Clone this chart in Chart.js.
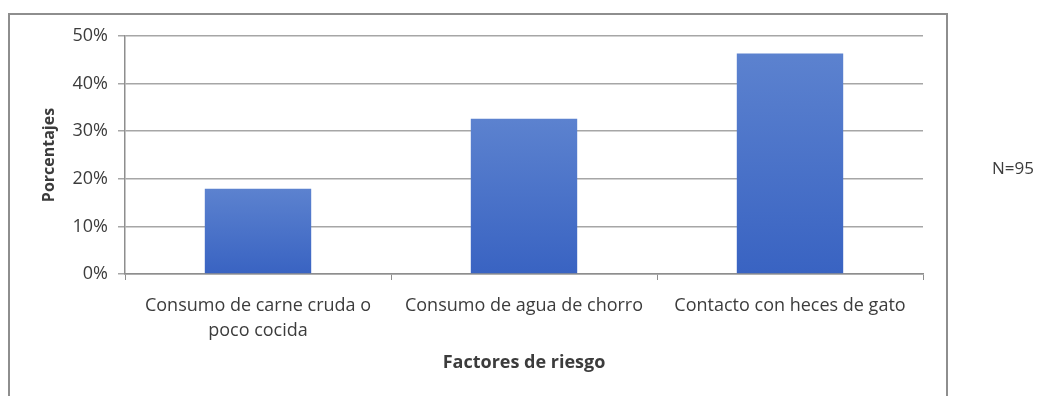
<!DOCTYPE html>
<html>
<head>
<meta charset="utf-8">
<script src="https://cdn.jsdelivr.net/npm/chart.js@4"></script>
<style>
  body { margin: 0; background: #fff; }
  #wrap { position: relative; width: 1043px; height: 396px; overflow: hidden; }
  #frame { position: absolute; left: 8px; top: 13px; width: 936px; height: 400px;
           border: 2px solid #8e8e8e; border-bottom: none; }
  #chart { position: absolute; left: 0; top: 0; }
  #nota { position: absolute; left: 992px; top: 156px; font: 17px "Open Sans", sans-serif; color: #3c3c3c; }
</style>
</head>
<body>
<div id="wrap">
  <div id="frame"></div>
  <canvas id="chart" width="1043" height="396"></canvas>
  <div id="nota">N=95</div>
</div>
<script>
// factores de riesgo (porcentaje sobre N=95)
const factores = [
  ["Consumo de carne cruda o", "poco cocida"],
  "Consumo de agua de chorro",
  "Contacto con heces de gato",
];
const porcentajes = [17.9, 32.6, 46.3];
const ticksY = [0, 10, 20, 30, 40, 50];

const gris = "#3c3c3c";
const fuente = "'Open Sans', sans-serif";

// degradado vertical de cada barra, mas claro arriba
function colorBarra(ctx) {
  const chart = ctx.chart;
  if (!chart.chartArea || ctx.type !== "data") return "#4a72c6";
  const y = chart.scales.y;
  const arriba = y.getPixelForValue(ctx.raw);
  const abajo = y.getPixelForValue(0);
  const g = chart.ctx.createLinearGradient(0, arriba, 0, abajo);
  g.addColorStop(0, "#5c82cf");
  g.addColorStop(1, "#3963c2");
  return g;
}

new Chart(document.getElementById("chart"), {
  type: "bar",
  data: {
    labels: factores,
    datasets: [
      {
        label: "Porcentajes",
        data: porcentajes,
        backgroundColor: colorBarra,
        categoryPercentage: 0.8,
        barPercentage: 0.5,
      },
    ],
  },
  options: {
    responsive: false,
    animation: false,
    layout: { padding: { top: 36, right: 120, bottom: 0, left: 0 } },
    plugins: {
      legend: { display: false },
      tooltip: { enabled: false },
    },
    scales: {
      x: {
        afterFit: (s) => { s.height = 122; },
        grid: { drawOnChartArea: false, drawTicks: true, tickLength: 6, color: "#8e8e8e" },
        border: { color: "#8e8e8e", width: 1.5 },
        ticks: {
          color: gris,
          padding: 13,
          maxRotation: 0,
          autoSkip: false,
          font: { family: fuente, size: 18, lineHeight: 1.39 },
        },
        title: {
          display: true,
          text: "Factores de riesgo",
          color: gris,
          padding: { top: 0, bottom: 22 },
          font: { family: fuente, size: 18, weight: "bold" },
        },
      },
      y: {
        min: 0,
        max: 50,
        afterFit: (s) => { s.width = 125; },
        afterBuildTicks: (s) => { s.ticks = ticksY.map((v) => ({ value: v })); },
        grid: { color: "#a6a6a6", lineWidth: 1.5, tickLength: 7 },
        border: { color: "#8e8e8e", width: 1.5 },
        ticks: {
          color: gris,
          padding: 10,
          callback: (v) => v + "%",
          font: { family: fuente, size: 18 },
        },
        title: {
          display: true,
          text: "Porcentajes",
          color: gris,
          padding: { top: 40, bottom: 0 },
          font: { family: fuente, size: 16, weight: "bold" },
        },
      },
    },
  },
});
</script>
</body>
</html>
